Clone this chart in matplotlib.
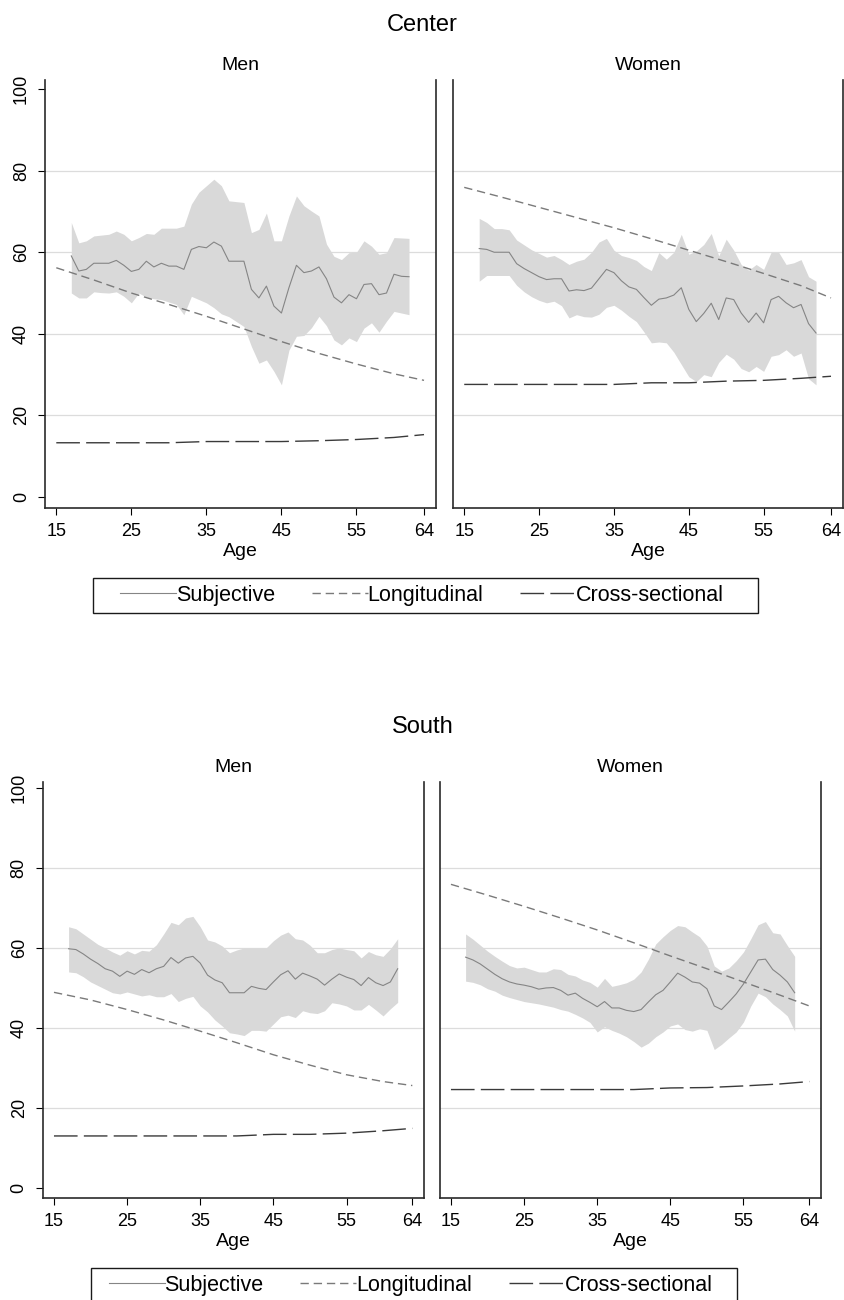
import numpy as np
import matplotlib
matplotlib.use('Agg')
import matplotlib.pyplot as plt
from matplotlib.patches import Rectangle

plt.rcParams['font.family'] = ['Liberation Sans', 'DejaVu Sans']

# ages
ages_sub = list(range(17, 63))
ages_trend = [15, 20, 25, 30, 35, 40, 45, 50, 55, 60, 64]
x_ticks = [15, 25, 35, 45, 55, 64]
y_ticks = [0, 20, 40, 60, 80, 100]
grid_vals = [20, 40, 60, 80]

# Center - Men
center_men_sub = [59.1, 55.4, 55.8, 57.3, 57.3, 57.3, 58.0, 56.8, 55.3, 55.8, 57.8, 56.4, 57.3,
                  56.6, 56.6, 55.8, 60.7, 61.4, 61.1, 62.5, 61.5, 57.8, 57.8, 57.8, 50.9, 48.8,
                  51.7, 46.8, 45.1, 51.3, 56.8, 55.0, 55.4, 56.4, 53.5, 49.0, 47.6, 49.6, 48.6,
                  52.1, 52.3, 49.6, 50.0, 54.6, 54.1, 54.0]
center_men_hi = [67.3, 62.3, 62.8, 64.0, 64.2, 64.4, 65.2, 64.4, 62.8, 63.6, 64.6, 64.4, 65.9,
                 65.9, 65.9, 66.4, 71.8, 74.7, 76.3, 77.9, 76.3, 72.6, 72.4, 72.2, 64.8, 65.6,
                 69.6, 62.8, 62.8, 68.9, 73.8, 71.4, 70.1, 68.9, 62.0, 59.0, 58.2, 59.9, 60.0,
                 62.8, 61.5, 59.5, 59.9, 63.6, 63.5, 63.4]
center_men_lo = [50.0, 48.8, 48.8, 50.3, 50.1, 50.0, 50.3, 49.2, 47.6, 50.0, 49.0, 48.6, 48.4,
                 47.8, 47.2, 44.7, 49.2, 48.4, 47.6, 46.4, 44.9, 44.2, 43.0, 41.8, 36.9, 32.8,
                 33.6, 30.8, 27.5, 36.0, 39.4, 39.6, 41.5, 44.3, 42.0, 38.5, 37.3, 39.0, 38.1,
                 41.4, 42.7, 40.4, 43.1, 45.5, 45.1, 44.7]
center_men_long = [56.2, 53.2, 50.0, 47.2, 44.3, 41.2, 38.1, 35.2, 32.6, 30.2, 28.6]
center_men_cross = [13.3, 13.3, 13.3, 13.3, 13.6, 13.6, 13.6, 13.8, 14.1, 14.6, 15.3]

# Center - Women
center_women_sub = [60.9, 60.7, 60.0, 60.0, 60.0, 57.2, 56.0, 55.0, 54.0, 53.3, 53.5, 53.5, 50.5,
                    50.8, 50.6, 51.2, 53.5, 55.8, 55.0, 53.0, 51.5, 50.9, 48.9, 47.0, 48.5, 48.8,
                    49.5, 51.3, 46.0, 43.0, 45.0, 47.5, 43.5, 48.8, 48.4, 45.1, 42.8, 45.1, 42.7,
                    48.4, 49.2, 47.6, 46.4, 47.2, 42.5, 40.2]
center_women_hi = [68.3, 67.3, 65.8, 65.8, 65.5, 63.0, 61.8, 60.6, 59.7, 58.8, 59.2, 58.2, 57.0,
                   57.8, 58.3, 60.0, 62.5, 63.4, 60.5, 59.2, 58.7, 58.0, 56.5, 55.5, 59.9, 58.3,
                   60.0, 64.4, 59.5, 60.3, 61.9, 64.6, 59.1, 63.2, 60.5, 57.0, 55.6, 57.0, 55.8,
                   60.0, 60.0, 57.0, 57.4, 58.2, 54.0, 52.9]
center_women_lo = [52.9, 54.3, 54.3, 54.3, 54.3, 51.9, 50.3, 49.1, 48.2, 47.6, 48.0, 46.9, 43.9,
                   44.7, 44.2, 44.1, 44.8, 46.5, 47.0, 45.8, 44.3, 43.0, 40.5, 37.8, 38.0, 37.8,
                   35.5, 32.5, 29.5, 28.3, 30.0, 29.5, 33.0, 35.0, 33.8, 31.5, 30.7, 32.0, 30.8,
                   34.5, 34.9, 36.1, 34.5, 35.3, 29.0, 27.5]
center_women_long = [75.9, 73.5, 71.0, 68.5, 66.0, 63.3, 60.5, 57.7, 54.8, 51.8, 48.8]
center_women_cross = [27.6, 27.6, 27.6, 27.6, 27.6, 28.0, 28.0, 28.4, 28.6, 29.1, 29.6]

# South - Men
south_men_sub = [59.8, 59.6, 58.5, 57.2, 56.1, 54.8, 54.2, 52.9, 54.2, 53.4, 54.6, 53.8, 54.8,
                 55.4, 57.6, 56.2, 57.5, 57.9, 56.2, 53.2, 52.0, 51.3, 48.8, 48.8, 48.8, 50.4,
                 49.9, 49.6, 51.5, 53.3, 54.3, 52.2, 53.7, 53.0, 52.2, 50.7, 52.2, 53.5, 52.7,
                 52.1, 50.6, 52.6, 51.3, 50.6, 51.5, 54.8]
south_men_hi = [65.3, 64.8, 63.5, 62.2, 60.9, 60.0, 59.0, 58.2, 59.3, 58.5, 59.4, 59.2, 60.8,
                63.5, 66.4, 65.8, 67.5, 67.9, 65.3, 62.0, 61.5, 60.5, 58.8, 59.5, 60.0, 60.0,
                60.0, 60.0, 61.8, 63.2, 64.0, 62.3, 62.0, 60.7, 58.8, 58.8, 59.6, 60.0, 59.6,
                59.3, 57.5, 59.1, 58.3, 57.9, 59.8, 62.3]
south_men_lo = [54.0, 53.8, 52.8, 51.5, 50.6, 49.7, 48.8, 48.5, 49.0, 48.5, 48.0, 48.3, 47.8,
                47.8, 48.6, 46.6, 47.4, 47.9, 45.5, 44.0, 42.0, 40.5, 38.8, 38.5, 38.1, 39.4,
                39.4, 39.2, 41.0, 42.8, 43.2, 42.6, 44.3, 43.8, 43.6, 44.3, 46.3, 46.0, 45.5,
                44.5, 44.5, 45.9, 44.5, 43.0, 44.8, 46.4]
south_men_long = [48.9, 47.0, 44.6, 42.0, 39.2, 36.3, 33.3, 30.7, 28.3, 26.6, 25.6]
south_men_cross = [13.0, 13.0, 13.0, 13.0, 13.0, 13.0, 13.4, 13.4, 13.7, 14.3, 14.9]

# South - Women
south_women_sub = [57.7, 57.0, 56.0, 54.7, 53.4, 52.3, 51.5, 51.0, 50.7, 50.3, 49.7, 50.0, 50.1,
                   49.4, 48.2, 48.7, 47.4, 46.4, 45.3, 46.6, 45.0, 45.0, 44.4, 44.1, 44.6, 46.5,
                   48.3, 49.4, 51.5, 53.7, 52.7, 51.5, 51.2, 49.8, 45.5, 44.6, 46.5, 48.5, 51.0,
                   54.0, 57.0, 57.2, 54.6, 53.2, 51.5, 48.8]
south_women_hi = [63.5, 62.2, 60.7, 59.2, 57.9, 56.7, 55.6, 55.0, 55.2, 54.6, 54.0, 54.0, 54.8,
                  54.6, 53.4, 53.0, 52.0, 51.4, 50.2, 52.4, 50.4, 50.8, 51.3, 52.2, 54.0, 57.2,
                  61.0, 62.8, 64.4, 65.6, 65.3, 64.0, 62.8, 60.5, 55.5, 54.2, 55.0, 56.8, 59.0,
                  62.3, 65.8, 66.6, 63.8, 63.5, 60.6, 57.9]
south_women_lo = [51.7, 51.4, 50.8, 49.8, 49.2, 48.2, 47.6, 47.1, 46.6, 46.3, 46.0, 45.6, 45.2,
                  44.6, 44.2, 43.4, 42.5, 41.4, 39.0, 40.3, 39.4, 38.7, 37.8, 36.6, 35.2, 36.2,
                  37.8, 39.0, 40.5, 41.0, 39.6, 39.2, 39.8, 39.4, 34.6, 35.9, 37.5, 39.0, 41.5,
                  45.5, 48.7, 47.8, 46.0, 44.6, 43.0, 39.2]
south_women_long = [75.9, 73.2, 70.4, 67.5, 64.5, 61.3, 58.0, 54.8, 51.5, 48.2, 45.5]
south_women_cross = [24.6, 24.6, 24.6, 24.6, 24.6, 24.6, 25.0, 25.1, 25.5, 26.0, 26.6]


def draw_panel(ax, sub, lo, hi, longi, cross, title, show_y):
    for g in grid_vals:
        ax.axhline(g, color='#dcdcdc', lw=0.9, zorder=0)
    ax.fill_between(ages_sub, lo, hi, color='#d9d9d9', lw=0, zorder=1)
    ax.plot(ages_sub, sub, color='#858585', lw=0.8, zorder=3, label='Subjective')
    ax.plot(ages_trend, longi, color='#7a7a7a', lw=1.0, dashes=(6, 3.5), zorder=3,
            label='Longitudinal')
    ax.plot(ages_trend, cross, color='#3a3a3a', lw=1.0, dashes=(17, 4.5), zorder=3,
            label='Cross-sectional')

    ax.set_xlim(13.5, 65.6)
    ax.set_ylim(-2.7, 102.2)
    ax.set_xticks(x_ticks)
    ax.set_yticks(y_ticks)
    ax.spines['top'].set_visible(False)
    for s in ['left', 'right', 'bottom']:
        ax.spines[s].set_color('#2a2a2a')
        ax.spines[s].set_linewidth(1.2)
    ax.tick_params(axis='x', length=5, width=0.8, pad=6, labelsize=13)
    if show_y:
        ax.tick_params(axis='y', length=5, width=0.8, pad=6, labelsize=13, labelrotation=90)
        for lab in ax.get_yticklabels():
            lab.set_va('center')
    else:
        ax.tick_params(axis='y', length=0, labelleft=False)
    ax.set_xlabel('Age', fontsize=14, labelpad=2)
    ax.set_title(title, fontsize=14, pad=7)


def draw_legend(fig, handles, labels, box_px):
    # box_px: left, top, right, bottom in pixels of the 845x1300 figure
    l, t, r, b = box_px
    fig.patches.append(Rectangle((l / 845, 1 - b / 1300), (r - l) / 845, (b - t) / 1300,
                                 transform=fig.transFigure, fill=False,
                                 edgecolor='#1a1a1a', lw=1.0))
    xc = (l + r) / 2 / 845 - 0.004
    yc = 1 - (t + b) / 2 / 1300
    fig.legend(handles, labels, loc='center', bbox_to_anchor=(xc, yc), ncol=3,
               frameon=False, fontsize=15.5, handlelength=2.6, handletextpad=0.0,
               columnspacing=1.7, borderpad=0.2)


fig = plt.figure(figsize=(8.45, 13.0), dpi=100)

ax1 = fig.add_axes([0.0533, 0.6092, 0.4627, 0.3292])
ax2 = fig.add_axes([0.5361, 0.6092, 0.4615, 0.3292])
ax3 = fig.add_axes([0.0509, 0.0785, 0.4509, 0.3200])
ax4 = fig.add_axes([0.5207, 0.0785, 0.4509, 0.3200])

draw_panel(ax1, center_men_sub, center_men_lo, center_men_hi, center_men_long,
           center_men_cross, 'Men', True)
draw_panel(ax2, center_women_sub, center_women_lo, center_women_hi, center_women_long,
           center_women_cross, 'Women', False)
draw_panel(ax3, south_men_sub, south_men_lo, south_men_hi, south_men_long,
           south_men_cross, 'Men', True)
draw_panel(ax4, south_women_sub, south_women_lo, south_women_hi, south_women_long,
           south_women_cross, 'Women', False)
ax3.set_ylim(-2.5, 101.5)
ax4.set_ylim(-2.5, 101.5)

fig.text(0.5, 1 - 25 / 1300, 'Center', fontsize=17, ha='center', va='center')
fig.text(0.5, 1 - 727 / 1300, 'South', fontsize=17, ha='center', va='center')

handles, labels = ax1.get_legend_handles_labels()
draw_legend(fig, handles, labels, (93, 578, 758, 613))
draw_legend(fig, handles, labels, (91, 1268, 737, 1303))

fig.savefig('out.png', dpi=100)
